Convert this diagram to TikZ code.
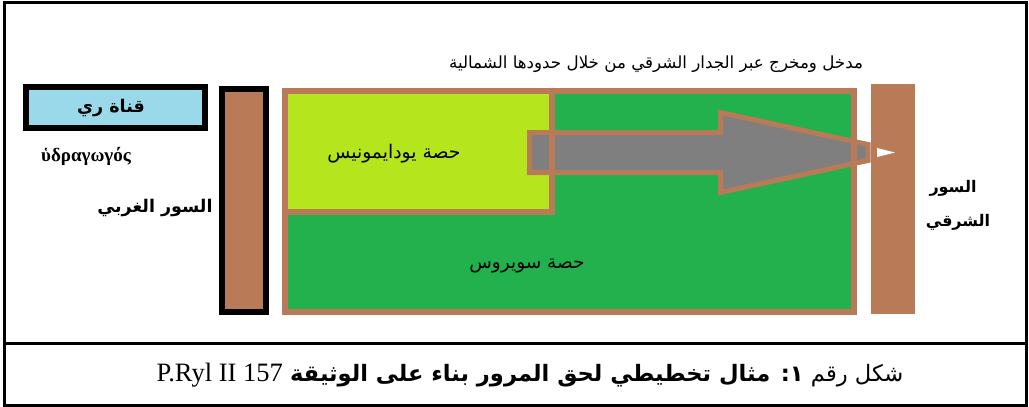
\documentclass[tikz,border=0pt]{standalone}
\usepackage{fontspec}
\setmainfont{Liberation Serif}
\newfontfamily\arabicfont[Script=Arabic]{DejaVu Sans}
\newfontfamily\greekfont{Liberation Serif}
\TeXXeTstate=1
\definecolor{brownw}{HTML}{B97A57}
\definecolor{lgreen}{HTML}{22B14C}
\definecolor{ygreen}{HTML}{B5E61D}
\definecolor{lblue}{HTML}{99D9EA}
\definecolor{agray}{HTML}{7F7F7F}
\newcommand{\fs}[1]{\fontsize{#1}{#1}\selectfont}
\begin{document}
\begin{tikzpicture}[x=1pt,y=-1pt,
  lbl/.style={inner sep=0pt,anchor=center,text=black},
  frame/.style={draw=black,line width=3pt},
  wallb/.style={draw=brownw,line width=6pt}]
\useasboundingbox (0,0) rectangle (1029,407);
% outer frame
\draw[frame] (4,2) rectangle (1026,405);
\draw[frame] (4,343) -- (1026,343);
% blue canal box
\draw[draw=black,line width=6pt,fill=lblue] (26,87) rectangle (205,128);
% west wall
\draw[draw=black,line width=6pt,fill=brownw] (222,89) rectangle (266,312);
% main plot fills
\fill[lgreen] (285,91) rectangle (854,312);
\fill[ygreen] (285,91) rectangle (552,212);
% arrow
\draw[draw=brownw,line width=5pt,fill=agray,line join=miter]
  (529.5,132.5) -- (720.5,132.5) -- (720.5,112.5) -- (868,144.5)
  -- (868,160.5) -- (720.5,192.5) -- (720.5,172.5) -- (529.5,172.5) -- cycle;
% borders over the arrow
\draw[wallb] (285,91) rectangle (854,312);
\draw[wallb] (285,91) rectangle (552,212);
% east wall
\fill[brownw] (871,84) rectangle (915,314);
\fill[white] (877,148) -- (895,152.5) -- (877,157) -- cycle;
% texts
\node[lbl] (top) at (656,64) {\arabicfont\fs{16.7}\beginR مدخل ومخرج عبر الجدار الشرقي من خلال حدودها الشمالية\endR};
\node[lbl] (canal) at (111,108) {\arabicfont\bfseries\fs{17.5}\beginR قناة ري\endR};
\node[lbl] (greek) at (86,156) {\greekfont\bfseries\fs{19}ὑδραγωγός};
\node[lbl] (west) at (155,208) {\arabicfont\bfseries\fs{17.5}\beginR السور الغربي\endR};
\node[lbl] (eud) at (394,154) {\arabicfont\fs{18.8}\beginR حصة يودايمونيس\endR};
\node[lbl] (sev) at (527,266) {\arabicfont\fs{18.5}\beginR حصة سويروس\endR};
\node[lbl] (east1) at (953,188) {\arabicfont\bfseries\fs{16}\beginR السور\endR};
\node[lbl] (east2) at (958,222) {\arabicfont\bfseries\fs{16}\beginR الشرقي\endR};
\node[lbl] (cap) at (530,375) {\arabicfont\fs{22.6}\beginR شكل رقم {\bfseries ١: مثال تخطيطي لحق المرور بناء على الوثيقة} \beginL{\rmfamily\fs{26.5}P.Ryl II 157}\endL\endR};
\end{tikzpicture}
\end{document}
